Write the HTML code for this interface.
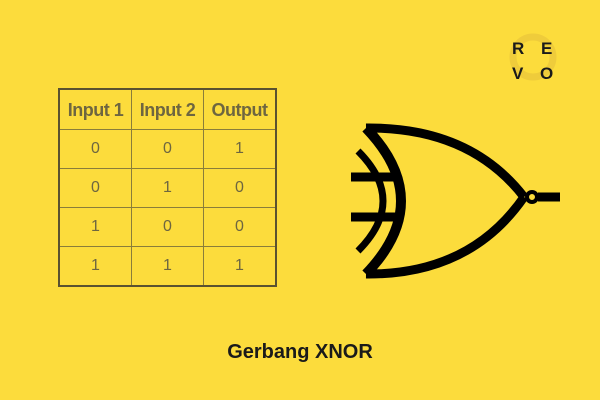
<!DOCTYPE html>
<html><head><style>
body{margin:0;width:600px;height:400px;background:#fcdc3c;position:relative;overflow:hidden;font-family:"Liberation Sans",sans-serif}
table{position:absolute;left:58px;top:88px;border-collapse:collapse;border:2px solid #5a5230}
td{border:1px solid #8a7d3a;width:71px;text-align:center;color:#6e6640;font-size:16px;padding:0;height:38px;line-height:16px}
tr:first-child td{font-weight:bold;font-size:18px;height:39px;letter-spacing:-0.5px}
.t{position:absolute;left:0;width:600px;top:341px;text-align:center;font-weight:bold;font-size:20px;color:#1a1a1a}
</style></head><body>
<table>
<tr><td>Input 1</td><td>Input 2</td><td>Output</td></tr>
<tr><td>0</td><td>0</td><td>1</td></tr>
<tr><td>0</td><td>1</td><td>0</td></tr>
<tr><td>1</td><td>0</td><td>0</td></tr>
<tr><td>1</td><td>1</td><td>1</td></tr>
</table>
<svg width="600" height="400" style="position:absolute;left:0;top:0">
<g fill="none" stroke="#000" stroke-width="9">
<path d="M366,128 Q436,201 366,274" stroke-width="10"/>
<path d="M366,128 Q470,127 524,197"/>
<path d="M366,274 Q470,275 524,197"/>
<path d="M358,151 Q408,201 358,251" stroke-width="7"/>
<path d="M351,177 H398 M351,217 H398" stroke-width="9"/>
<path d="M538,197 H560" stroke-width="9"/>
<circle cx="532" cy="197" r="5" stroke-width="4"/>
</g>
<circle cx="533" cy="57" r="20" fill="none" stroke="#e6c23a" stroke-width="7" opacity="0.6"/>
<g font-family="Liberation Sans" font-weight="bold" font-size="17" fill="#1a1a1a">
<text x="512" y="54">R</text><text x="541" y="54">E</text>
<text x="512" y="79">V</text><text x="540" y="79">O</text>
</g>
</svg>
<div class="t">Gerbang XNOR</div>
</body></html>
